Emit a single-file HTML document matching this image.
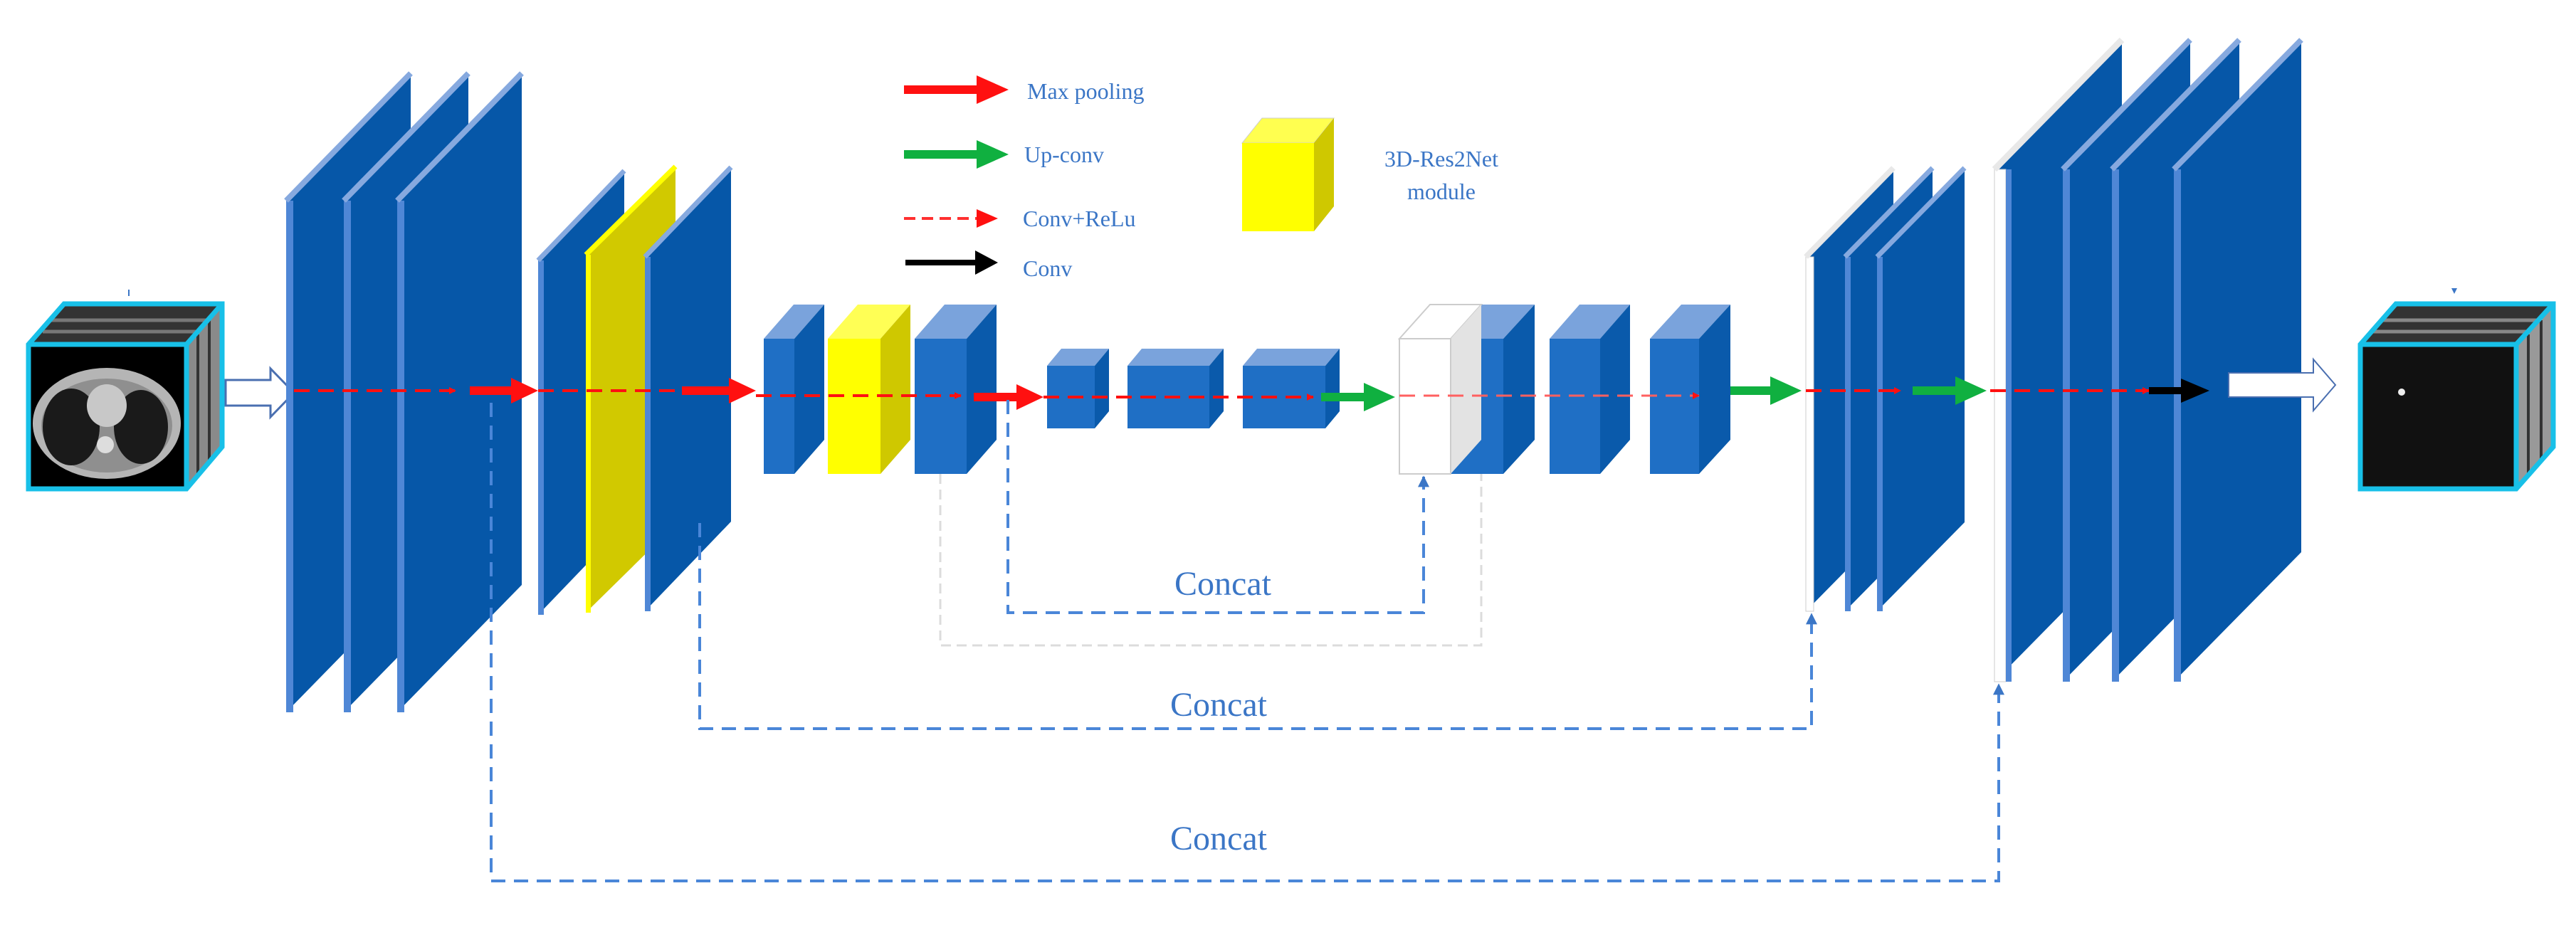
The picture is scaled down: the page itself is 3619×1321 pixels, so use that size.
<!DOCTYPE html>
<html><head><meta charset="utf-8"><style>
html,body{margin:0;padding:0;background:#fff;}
svg{display:block;}
text{font-family:"Liberation Serif","DejaVu Serif",serif;fill:#3b76c6;}
</style></head><body>
<svg width="3619" height="1321" viewBox="0 0 3619 1321" xmlns="http://www.w3.org/2000/svg">
<defs>
<marker id="rh" markerWidth="10" markerHeight="10" refX="9" refY="5" orient="auto" markerUnits="userSpaceOnUse" viewBox="0 0 10 10"><path d="M0,0 L10,5 L0,10z" fill="#ff1010"/></marker>
<marker id="bh" viewBox="0 0 10 10" refX="9" refY="5" markerWidth="16" markerHeight="20" orient="auto" markerUnits="userSpaceOnUse"><path d="M0,0 L10,5 L0,10z" fill="#3b76c6"/></marker>
</defs>

<!-- input cube -->
<polygon points="40,484 90,427 312,427 262,484" fill="#333"/>
<line x1="70" y1="450" x2="292" y2="450" stroke="#777" stroke-width="5"/>
<line x1="60" y1="466" x2="282" y2="466" stroke="#777" stroke-width="5"/>
<polygon points="262,484 312,427 312,628 262,687" fill="#8a8a8a"/>
<line x1="278" y1="470" x2="278" y2="670" stroke="#333" stroke-width="4"/>
<line x1="294" y1="450" x2="294" y2="650" stroke="#333" stroke-width="4"/>
<rect x="40" y="484" width="222" height="203" fill="#000"/>
<ellipse cx="150" cy="595" rx="104" ry="78" fill="#b5b5b5"/>
<ellipse cx="150" cy="598" rx="92" ry="66" fill="#8f8f8f"/>
<ellipse cx="100" cy="600" rx="40" ry="54" fill="#1a1a1a"/>
<ellipse cx="198" cy="600" rx="38" ry="52" fill="#1a1a1a"/>
<ellipse cx="150" cy="570" rx="28" ry="30" fill="#c8c8c8"/>
<ellipse cx="148" cy="625" rx="12" ry="12" fill="#ddd"/>
<polygon points="40,484 90,427 312,427 312,628 262,687 40,687" fill="none" stroke="#18c0e8" stroke-width="7"/>
<polyline points="40,484 262,484 262,687" fill="none" stroke="#18c0e8" stroke-width="7"/>
<line x1="262" y1="484" x2="312" y2="427" stroke="#18c0e8" stroke-width="7"/>
<line x1="181" y1="407" x2="181" y2="416" stroke="#3b76c6" stroke-width="2"/>
<polygon points="317,534 380,534 380,518 413,552 380,586 380,570 317,570" fill="#fff" stroke="#4a6fb0" stroke-width="3"/>

<!-- group1 planes -->
<g>
<polygon points="402,282 577,103 577,822 402,1001" fill="#0657a8"/>
<rect x="402" y="282" width="10" height="719" fill="#4f87d6"/>
<line x1="402" y1="282" x2="577" y2="103" stroke="#86a9df" stroke-width="8"/>
<polygon points="483,282 658,103 658,822 483,1001" fill="#0657a8"/>
<rect x="483" y="282" width="10" height="719" fill="#4f87d6"/>
<line x1="483" y1="282" x2="658" y2="103" stroke="#86a9df" stroke-width="8"/>
<polygon points="558,282 733,103 733,822 558,1001" fill="#0657a8"/>
<rect x="558" y="282" width="10" height="719" fill="#4f87d6"/>
<line x1="558" y1="282" x2="733" y2="103" stroke="#86a9df" stroke-width="8"/>
</g>
<!-- group2 -->
<g>
<polygon points="756,366 877,240 877,738 756,864" fill="#0657a8"/>
<rect x="756" y="366" width="8" height="498" fill="#4f87d6"/>
<line x1="756" y1="366" x2="877" y2="240" stroke="#86a9df" stroke-width="7"/>
<polygon points="823,358 949,234 949,737 823,861" fill="#d1c900"/>
<rect x="823" y="358" width="7" height="503" fill="#ffff00"/>
<line x1="823" y1="358" x2="949" y2="234" stroke="#ffff00" stroke-width="7"/>
<polygon points="906,361 1027,235 1027,733 906,859" fill="#0657a8"/>
<rect x="906" y="361" width="8" height="498" fill="#4f87d6"/>
<line x1="906" y1="361" x2="1027" y2="235" stroke="#86a9df" stroke-width="7"/>
</g>

<!-- cubes -->
<g>
<polygon points="1073,476 1115,428 1158,428 1116,476" fill="#7aa3dc"/>
<polygon points="1116,476 1158,428 1158,618 1116,666" fill="#0a5aab"/>
<rect x="1073" y="476" width="43" height="190" fill="#1f6fc5"/>

<polygon points="1163,476 1205,428 1279,428 1237,476" fill="#ffff55"/>
<polygon points="1237,476 1279,428 1279,618 1237,666" fill="#cfc800"/>
<rect x="1163" y="476" width="74" height="190" fill="#ffff00"/>

<polygon points="1285,476 1327,428 1400,428 1358,476" fill="#7aa3dc"/>
<polygon points="1358,476 1400,428 1400,618 1358,666" fill="#0a5aab"/>
<rect x="1285" y="476" width="73" height="190" fill="#1f6fc5"/>

<polygon points="1471,514 1491,490 1558,490 1538,514" fill="#7aa3dc"/>
<polygon points="1538,514 1558,490 1558,578 1538,602" fill="#0a5aab"/>
<rect x="1471" y="514" width="67" height="88" fill="#1f6fc5"/>

<polygon points="1584,514 1604,490 1719,490 1699,514" fill="#7aa3dc"/>
<polygon points="1699,514 1719,490 1719,578 1699,602" fill="#0a5aab"/>
<rect x="1584" y="514" width="115" height="88" fill="#1f6fc5"/>

<polygon points="1746,514 1766,490 1882,490 1862,514" fill="#7aa3dc"/>
<polygon points="1862,514 1882,490 1882,578 1862,602" fill="#0a5aab"/>
<rect x="1746" y="514" width="116" height="88" fill="#1f6fc5"/>

<polygon points="2038,476 2082,428 2156,428 2112,476" fill="#7aa3dc"/>
<polygon points="2112,476 2156,428 2156,618 2112,666" fill="#0a5aab"/>
<rect x="2038" y="476" width="74" height="190" fill="#1f6fc5"/>
<polygon points="1966,476 2009,428 2081,428 2038,476" fill="#fff" stroke="#ccc" stroke-width="2"/>
<polygon points="2038,476 2081,428 2081,618 2038,666" fill="#e3e3e3"/>
<rect x="1966" y="476" width="72" height="190" fill="#fff" stroke="#ccc" stroke-width="2"/>

<polygon points="2177,476 2219,428 2290,428 2248,476" fill="#7aa3dc"/>
<polygon points="2248,476 2290,428 2290,618 2248,666" fill="#0a5aab"/>
<rect x="2177" y="476" width="71" height="190" fill="#1f6fc5"/>

<polygon points="2318,476 2362,428 2431,428 2387,476" fill="#7aa3dc"/>
<polygon points="2387,476 2431,428 2431,618 2387,666" fill="#0a5aab"/>
<rect x="2318" y="476" width="69" height="190" fill="#1f6fc5"/>
</g>

<!-- group3 -->
<g>
<polygon points="2537,361 2660,236 2660,734 2537,859" fill="#0657a8"/>
<rect x="2537" y="361" width="11" height="498" fill="#fff" stroke="#ccc" stroke-width="1"/>
<line x1="2537" y1="361" x2="2660" y2="236" stroke="#e8e8e8" stroke-width="8"/>
<polygon points="2592,361 2715,236 2715,734 2592,859" fill="#0657a8"/>
<rect x="2592" y="361" width="8" height="498" fill="#4f87d6"/>
<line x1="2592" y1="361" x2="2715" y2="236" stroke="#86a9df" stroke-width="7"/>
<polygon points="2637,361 2760,236 2760,734 2637,859" fill="#0657a8"/>
<rect x="2637" y="361" width="8" height="498" fill="#4f87d6"/>
<line x1="2637" y1="361" x2="2760" y2="236" stroke="#86a9df" stroke-width="7"/>
</g>
<!-- group4 -->
<g>
<polygon points="2802,238 2981,56 2981,776 2802,958" fill="#0657a8"/>
<rect x="2802" y="238" width="16" height="720" fill="#fff" stroke="#ccc" stroke-width="1"/>
<line x1="2802" y1="238" x2="2981" y2="56" stroke="#e8e8e8" stroke-width="9"/>
<rect x="2818" y="238" width="8" height="720" fill="#4f87d6"/>
<polygon points="2898,238 3077,56 3077,776 2898,958" fill="#0657a8"/>
<rect x="2898" y="238" width="10" height="720" fill="#4f87d6"/>
<line x1="2898" y1="238" x2="3077" y2="56" stroke="#86a9df" stroke-width="8"/>
<polygon points="2967,238 3146,56 3146,776 2967,958" fill="#0657a8"/>
<rect x="2967" y="238" width="10" height="720" fill="#4f87d6"/>
<line x1="2967" y1="238" x2="3146" y2="56" stroke="#86a9df" stroke-width="8"/>
<polygon points="3054,238 3233,56 3233,776 3054,958" fill="#0657a8"/>
<rect x="3054" y="238" width="10" height="720" fill="#4f87d6"/>
<line x1="3054" y1="238" x2="3233" y2="56" stroke="#86a9df" stroke-width="8"/>
</g>

<!-- flow arrows -->
<g stroke="#ff1010" stroke-width="4" stroke-dasharray="22,12" fill="none">
<line x1="413" y1="549" x2="640" y2="549" marker-end="url(#rh)"/>
<line x1="756" y1="549" x2="958" y2="549"/>
<line x1="1062" y1="556" x2="1350" y2="556" marker-end="url(#rh)"/>
<line x1="1466" y1="558" x2="1845" y2="558" marker-end="url(#rh)"/>
<line x1="1966" y1="556" x2="2387" y2="556" stroke="#ff6060" stroke-width="3" marker-end="url(#rh)"/>
<line x1="2537" y1="549" x2="2670" y2="549" marker-end="url(#rh)"/>
<line x1="2796" y1="549" x2="3019" y2="549" marker-end="url(#rh)"/>
</g>
<g fill="#ff1010">
<polygon points="660,543 718,543 718,531 756,549 718,567 718,555 660,555"/>
<polygon points="958,543 1024,543 1024,531 1062,549 1024,567 1024,555 958,555"/>
<polygon points="1368,552 1428,552 1428,540 1466,558 1428,576 1428,564 1368,564"/>
</g>
<g fill="#10b040">
<polygon points="1856,552 1916,552 1916,538 1960,558 1916,578 1916,564 1856,564"/>
<polygon points="2431,543 2487,543 2487,529 2531,549 2487,569 2487,555 2431,555"/>
<polygon points="2687,543 2747,543 2747,529 2791,549 2747,569 2747,555 2687,555"/>
</g>
<polygon points="3019,544 3064,544 3064,532 3104,549 3064,566 3064,554 3019,554" fill="#000"/>
<polygon points="3131,524 3250,524 3250,505 3281,541 3250,577 3250,558 3131,558" fill="#fff" stroke="#4a6fb0" stroke-width="2"/>

<!-- output cube -->
<polygon points="3316,484 3366,427 3587,427 3535,484" fill="#333"/>
<line x1="3346" y1="450" x2="3566" y2="450" stroke="#888" stroke-width="5"/>
<line x1="3332" y1="466" x2="3552" y2="466" stroke="#888" stroke-width="5"/>
<polygon points="3535,484 3587,427 3587,628 3535,687" fill="#999"/>
<line x1="3552" y1="470" x2="3552" y2="670" stroke="#333" stroke-width="4"/>
<line x1="3570" y1="450" x2="3570" y2="650" stroke="#333" stroke-width="4"/>
<rect x="3316" y="484" width="219" height="203" fill="#111"/>
<circle cx="3374" cy="551" r="5" fill="#eee"/>
<polygon points="3316,484 3366,427 3587,427 3587,628 3535,687 3316,687" fill="none" stroke="#18c0e8" stroke-width="7"/>
<polyline points="3316,484 3535,484 3535,687" fill="none" stroke="#18c0e8" stroke-width="7"/>
<line x1="3535" y1="484" x2="3587" y2="427" stroke="#18c0e8" stroke-width="7"/>
<polygon points="3444,405 3452,405 3448,413" fill="#3b76c6"/>

<!-- concat lines -->
<polyline points="1321,666 1321,907 2081,907 2081,666" fill="none" stroke="#dcdcdc" stroke-width="3" stroke-dasharray="14,8"/>
<g fill="none" stroke="#4a86d8" stroke-width="4" stroke-dasharray="20,12">
<polyline points="1416,562 1416,861 2000,861 2000,670" marker-end="url(#bh)"/>
<polyline points="983,735 983,1024 2545,1024 2545,863" marker-end="url(#bh)"/>
<polyline points="690,566 690,1238 2808,1238 2808,962" marker-end="url(#bh)"/>
</g>
<g font-family="Liberation Serif, DejaVu Serif, serif" fill="#3b76c6">
<text x="1650" y="836" font-size="48">Concat</text>
<text x="1644" y="1006" font-size="48">Concat</text>
<text x="1644" y="1194" font-size="48">Concat</text>
<text x="1443" y="139" font-size="32">Max pooling</text>
<text x="1439" y="228" font-size="32">Up-conv</text>
<text x="1437" y="318" font-size="32">Conv+ReLu</text>
<text x="1437" y="388" font-size="32">Conv</text>
<text x="2025" y="234" font-size="32" text-anchor="middle">3D-Res2Net</text>
<text x="2025" y="280" font-size="32" text-anchor="middle">module</text>
</g>

<!-- legend -->
<polygon points="1270,120 1372,120 1372,106 1417,126 1372,146 1372,132 1270,132" fill="#ff1010"/>
<polygon points="1270,211 1372,211 1372,197 1417,217 1372,237 1372,223 1270,223" fill="#10b040"/>
<line x1="1270" y1="307" x2="1375" y2="307" stroke="#ff3030" stroke-width="4" stroke-dasharray="16,9"/>
<polygon points="1372,294 1402,307 1372,320" fill="#ff1010"/>
<polygon points="1272,365 1370,365 1370,352 1402,369 1370,386 1370,373 1272,373" fill="#000"/>
<polygon points="1745,201 1773,166 1874,166 1846,201" fill="#ffff50" stroke="#ccc" stroke-width="1"/>
<polygon points="1846,201 1874,166 1874,290 1846,325" fill="#cfc800"/>
<rect x="1745" y="201" width="101" height="124" fill="#ffff00"/>
</svg>
</body></html>
